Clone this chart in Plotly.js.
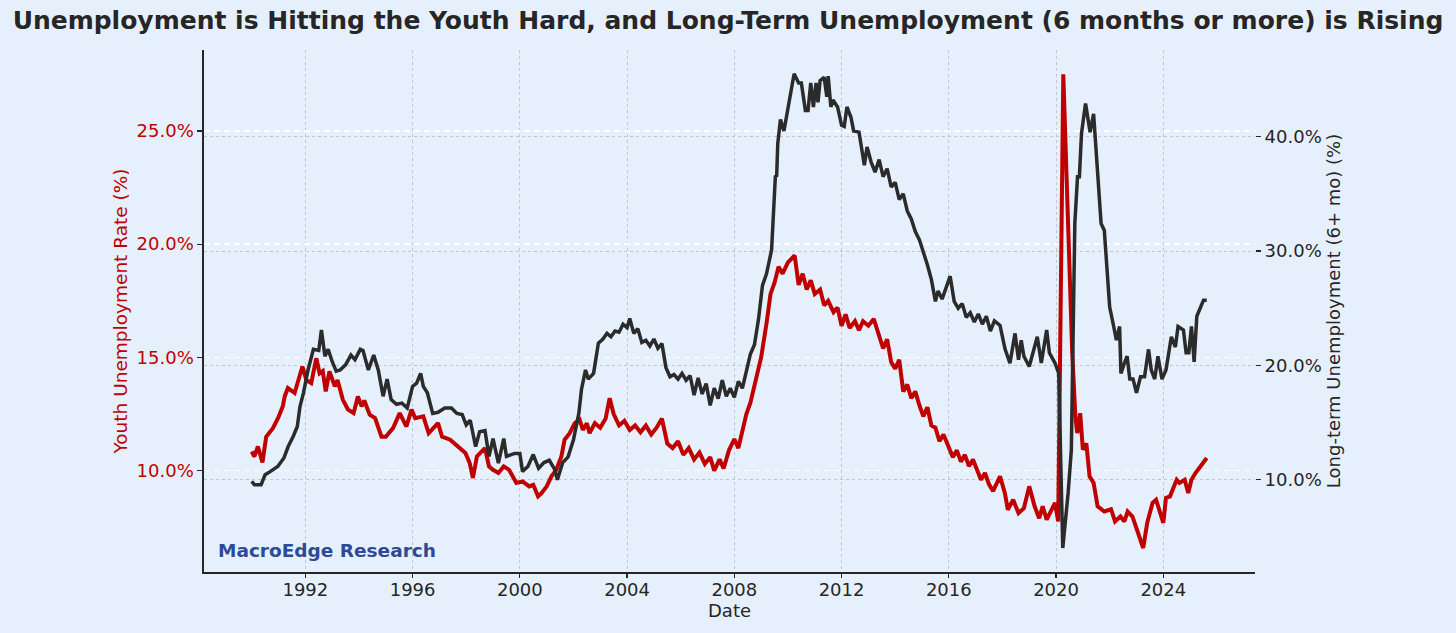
<!DOCTYPE html>
<html>
<head>
<meta charset="utf-8">
<script src="https://cdn.plot.ly/plotly-3.0.1.min.js"></script>
<style>html,body{margin:0;padding:0;background:#e6f0fc;}#chart{width:1456px;height:633px;}</style>
</head>
<body>
<div id="chart"></div>
<script>
// Youth unemployment rate (%), decimal year
const youthDates = [1990.00,1990.10,1990.23,1990.40,1990.54,1990.79,1990.98,1991.16,1991.23,1991.35,1991.60,1991.72,1991.89,1992.04,1992.22,1992.41,1992.53,1992.65,1992.76,1992.90,1993.10,1993.20,1993.40,1993.59,1993.80,1993.96,1994.10,1994.20,1994.40,1994.60,1994.84,1995.00,1995.27,1995.52,1995.77,1995.96,1996.10,1996.40,1996.60,1996.95,1997.10,1997.40,1997.67,1997.97,1998.13,1998.25,1998.40,1998.70,1998.85,1999.00,1999.20,1999.40,1999.60,1999.87,2000.10,2000.35,2000.50,2000.68,2000.80,2001.00,2001.18,2001.36,2001.55,2001.67,2001.86,2002.05,2002.23,2002.35,2002.50,2002.60,2002.80,2003.00,2003.20,2003.35,2003.50,2003.70,2003.90,2004.10,2004.30,2004.50,2004.70,2004.90,2005.10,2005.30,2005.50,2005.70,2005.90,2006.10,2006.30,2006.50,2006.70,2006.90,2007.10,2007.25,2007.45,2007.60,2007.80,2008.00,2008.15,2008.30,2008.45,2008.60,2008.80,2009.00,2009.20,2009.35,2009.50,2009.65,2009.80,2010.00,2010.25,2010.40,2010.55,2010.70,2010.85,2011.00,2011.20,2011.35,2011.50,2011.70,2011.85,2012.00,2012.15,2012.30,2012.50,2012.65,2012.80,2013.00,2013.20,2013.40,2013.55,2013.70,2013.85,2014.00,2014.15,2014.30,2014.45,2014.60,2014.75,2014.90,2015.05,2015.20,2015.35,2015.50,2015.65,2015.80,2016.00,2016.15,2016.30,2016.45,2016.60,2016.75,2016.90,2017.05,2017.20,2017.35,2017.50,2017.65,2017.80,2017.91,2018.09,2018.20,2018.40,2018.60,2018.80,2019.00,2019.20,2019.37,2019.50,2019.65,2019.96,2020.08,2020.27,2020.36,2020.50,2020.60,2020.72,2020.79,2020.90,2021.00,2021.13,2021.25,2021.40,2021.55,2021.80,2022.05,2022.20,2022.40,2022.55,2022.67,2022.85,2023.25,2023.40,2023.60,2023.73,2024.00,2024.10,2024.25,2024.40,2024.50,2024.60,2024.80,2024.93,2025.05,2025.20,2025.40,2025.62];
const youthValues = [10.85,10.63,11.07,10.37,11.50,11.88,12.32,12.84,13.28,13.65,13.43,13.87,14.60,14.00,13.87,14.97,14.30,14.40,13.50,14.38,13.72,14.00,13.13,12.70,12.54,13.28,12.84,13.10,12.47,12.32,11.50,11.50,11.88,12.54,11.95,12.70,12.32,12.40,11.66,12.10,11.50,11.37,11.07,10.78,10.34,9.68,10.63,11.00,10.19,10.04,9.90,10.19,10.04,9.46,9.53,9.31,9.38,8.87,9.00,9.31,9.75,10.04,10.63,11.37,11.66,12.10,12.25,11.80,12.10,11.66,12.10,11.90,12.30,13.20,12.50,12.00,12.20,11.80,12.00,11.70,12.00,11.60,11.90,12.30,11.20,11.00,11.30,10.70,11.00,10.50,10.80,10.30,10.60,10.00,10.50,10.10,10.90,11.40,11.00,11.80,12.50,13.00,14.00,15.00,16.50,17.80,18.30,19.00,18.70,19.20,19.50,18.20,18.70,18.00,18.40,17.80,18.00,17.30,17.50,17.00,17.20,16.40,16.90,16.30,16.60,16.20,16.60,16.40,16.70,16.00,15.40,15.80,14.80,14.50,14.90,13.50,13.80,13.20,13.50,12.90,12.40,12.80,12.00,11.90,11.30,11.60,11.00,10.60,10.90,10.40,10.70,10.20,10.50,10.00,9.60,9.90,9.40,9.10,9.50,9.75,9.02,8.28,8.72,8.13,8.35,9.31,8.43,7.90,8.43,7.84,8.58,7.76,27.50,24.20,19.45,15.30,12.40,11.66,12.54,10.93,11.20,9.75,9.46,8.43,8.20,8.30,7.76,7.98,7.76,8.20,7.98,6.59,7.70,8.58,8.72,7.70,8.80,8.87,9.31,9.60,9.46,9.60,9.02,9.60,9.90,10.19,10.56];

// Long-term unemployment (6+ months) share (%), decimal year
const longTermDates = [1990.00,1990.10,1990.35,1990.50,1990.70,1990.97,1991.20,1991.36,1991.55,1991.70,1991.80,1991.93,1992.10,1992.30,1992.50,1992.60,1992.73,1992.85,1993.00,1993.15,1993.30,1993.50,1993.70,1993.85,1994.05,1994.15,1994.35,1994.55,1994.72,1994.90,1995.05,1995.20,1995.40,1995.60,1995.80,1996.00,1996.15,1996.30,1996.40,1996.55,1996.75,1996.95,1997.20,1997.45,1997.65,1997.85,1998.00,1998.15,1998.35,1998.50,1998.70,1998.85,1999.00,1999.20,1999.40,1999.50,1999.80,2000.00,2000.10,2000.30,2000.50,2000.70,2000.90,2001.10,2001.30,2001.40,2001.60,2001.80,2002.00,2002.20,2002.30,2002.45,2002.55,2002.75,2002.93,2003.10,2003.25,2003.40,2003.55,2003.70,2003.85,2004.00,2004.10,2004.25,2004.40,2004.55,2004.70,2004.85,2005.00,2005.15,2005.30,2005.45,2005.60,2005.75,2005.90,2006.05,2006.20,2006.35,2006.50,2006.65,2006.80,2006.95,2007.10,2007.25,2007.40,2007.55,2007.70,2007.85,2008.00,2008.15,2008.30,2008.45,2008.60,2008.75,2008.90,2009.05,2009.20,2009.39,2009.47,2009.50,2009.53,2009.58,2009.62,2009.72,2009.85,2010.23,2010.40,2010.50,2010.65,2010.75,2010.85,2010.95,2011.05,2011.12,2011.20,2011.35,2011.45,2011.50,2011.60,2011.68,2011.85,2012.00,2012.10,2012.20,2012.35,2012.45,2012.65,2012.85,2012.95,2013.10,2013.25,2013.40,2013.55,2013.70,2013.85,2014.00,2014.15,2014.30,2014.45,2014.60,2014.75,2014.90,2015.05,2015.20,2015.35,2015.50,2015.60,2015.75,2015.90,2016.05,2016.20,2016.35,2016.50,2016.65,2016.80,2016.95,2017.10,2017.25,2017.40,2017.55,2017.70,2017.91,2018.10,2018.28,2018.47,2018.60,2018.70,2018.80,2019.00,2019.10,2019.30,2019.45,2019.65,2019.75,2019.96,2020.10,2020.25,2020.45,2020.57,2020.70,2020.80,2020.87,2020.95,2021.10,2021.27,2021.40,2021.50,2021.68,2021.80,2021.95,2022.00,2022.15,2022.25,2022.37,2022.42,2022.55,2022.65,2022.75,2022.87,2023.00,2023.15,2023.30,2023.45,2023.55,2023.68,2023.80,2023.95,2024.10,2024.30,2024.45,2024.55,2024.75,2024.85,2024.95,2025.05,2025.15,2025.25,2025.50,2025.62];
const longTermValues = [9.85,9.56,9.56,10.44,10.73,11.16,11.90,12.90,13.80,14.66,16.40,17.60,19.60,21.40,21.30,23.10,20.80,21.40,20.34,19.50,19.60,20.05,20.90,20.50,21.40,21.30,19.60,20.90,19.60,17.30,18.80,17.00,16.60,16.70,16.27,18.16,18.45,19.30,18.16,17.60,15.80,15.90,16.27,16.27,15.80,15.70,14.80,15.20,12.90,14.20,14.30,12.04,13.60,11.46,13.60,12.04,12.30,12.30,10.73,11.16,12.20,11.00,11.50,11.70,10.90,10.00,11.50,12.00,13.50,15.80,17.90,19.60,18.80,19.30,21.95,22.30,22.80,22.50,23.00,22.90,23.60,23.30,24.10,22.80,23.20,22.00,22.20,21.70,22.30,21.50,21.90,19.80,19.00,19.20,18.80,19.30,18.70,19.10,17.40,18.90,17.50,18.40,16.50,18.00,17.10,18.70,17.30,18.00,17.20,18.60,18.00,19.50,21.00,21.80,24.00,27.00,28.00,30.10,33.90,34.30,36.50,36.60,39.40,41.50,40.50,45.50,44.70,44.70,42.30,42.30,44.70,42.60,44.70,43.00,44.90,45.20,43.50,45.30,42.60,43.20,42.60,41.00,40.90,42.60,41.70,40.50,40.40,37.50,39.10,37.80,36.90,38.00,36.50,37.20,35.60,36.00,34.50,35.00,33.50,32.80,31.70,31.00,30.00,28.80,27.50,25.60,26.50,25.80,26.80,27.80,25.60,25.00,25.40,24.20,24.60,23.80,24.50,23.60,24.30,23.00,23.90,23.50,21.40,20.20,22.80,20.50,22.20,20.80,19.90,20.80,22.50,20.20,23.10,21.10,20.20,19.30,4.03,8.84,12.60,32.40,36.50,36.50,40.30,42.90,40.40,42.00,38.80,32.40,31.80,26.60,25.10,23.40,22.20,23.40,19.30,20.20,20.80,18.80,18.80,17.60,19.00,19.00,21.40,19.60,18.80,20.80,18.80,19.60,22.50,21.60,23.40,23.10,21.10,21.10,23.40,20.30,24.30,25.70,25.70];

// Tick labels
const xTickYears = [1992,1996,2000,2004,2008,2012,2016,2020,2024];
const xTickLabels = ["1992","1996","2000","2004","2008","2012","2016","2020","2024"];
const leftTicks = [10,15,20,25];
const leftTickLabels = ["10.0%","15.0%","20.0%","25.0%"];
const rightTicks = [10,20,30,40];
const rightTickLabels = ["10.0%","20.0%","30.0%","40.0%"];

const RED = "#c00000";
const DARK = "#2b2b2b";
const TXT = "#262626";
const FONT = "DejaVu Sans, Verdana, sans-serif";

const traces = [
  {x: youthDates, y: youthValues, type: "scatter", mode: "lines", name: "Youth Unemployment Rate",
   line: {color: RED, width: 4}, yaxis: "y", hoverinfo: "skip"},
  {x: longTermDates, y: longTermValues, type: "scatter", mode: "lines", name: "Long-term Unemployment",
   line: {color: DARK, width: 3.5}, yaxis: "y2", hoverinfo: "skip"}
];

const layout = {
  width: 1456, height: 633,
  paper_bgcolor: "#e6f0fc", plot_bgcolor: "#e6f0fc",
  margin: {l: 204, r: 201, t: 50, b: 61, pad: 0},
  showlegend: false,
  font: {family: FONT, color: TXT, size: 18},
  title: {text: "<b>Unemployment is Hitting the Youth Hard, and Long-Term Unemployment (6 months or more) is Rising</b>",
          font: {family: FONT, size: 25, color: TXT}, x: 0.5, xanchor: "center", y: 0.968, yanchor: "middle"},
  xaxis: {
    range: [1988.22, 2027.42], tickmode: "array", tickvals: xTickYears, ticktext: xTickLabels,
    showline: true, linecolor: TXT, linewidth: 1.6, ticks: "outside", ticklen: 4, tickwidth: 1.3, tickcolor: TXT,
    showgrid: true, gridcolor: "#c2c6cd", griddash: "3px,3px", gridwidth: 1, zeroline: false,
    tickfont: {size: 18, color: TXT}, ticklabelstandoff: -3,
    title: {text: "Date", font: {size: 18, color: TXT}, standoff: 2}
  },
  yaxis: {
    range: [5.53, 28.57], tickmode: "array", tickvals: leftTicks, ticktext: leftTickLabels,
    showline: true, linecolor: TXT, linewidth: 1.6, ticks: "outside", ticklen: 5, tickwidth: 1.3, tickcolor: TXT,
    showgrid: true, gridcolor: "#ffffff", griddash: "6px,4px", gridwidth: 1.5, zeroline: false,
    tickfont: {size: 18, color: RED},
    title: {text: "Youth Unemployment Rate (%)", font: {size: 18.5, color: RED}, standoff: 4}
  },
  yaxis2: {
    range: [1.93, 47.58], overlaying: "y", side: "right", tickmode: "array", tickvals: rightTicks, ticktext: rightTickLabels,
    showline: false, ticks: "outside", ticklen: 5, tickwidth: 1.3, tickcolor: TXT,
    showgrid: true, gridcolor: "#c2c6cd", griddash: "3px,3px", gridwidth: 1, zeroline: false,
    tickfont: {size: 18, color: TXT},
    title: {text: "Long-term Unemployment (6+ mo) (%)", font: {size: 18, color: TXT}, standoff: 6}
  },
  annotations: [
    {text: "<b>MacroEdge Research</b>", xref: "paper", yref: "paper", x: 0.011, y: 0.041,
     xanchor: "left", yanchor: "middle", showarrow: false, font: {family: FONT, size: 18.5, color: "#2c4a96"}}
  ]
};

Plotly.newPlot("chart", traces, layout, {staticPlot: true, displayModeBar: false});
</script>
</body>
</html>
